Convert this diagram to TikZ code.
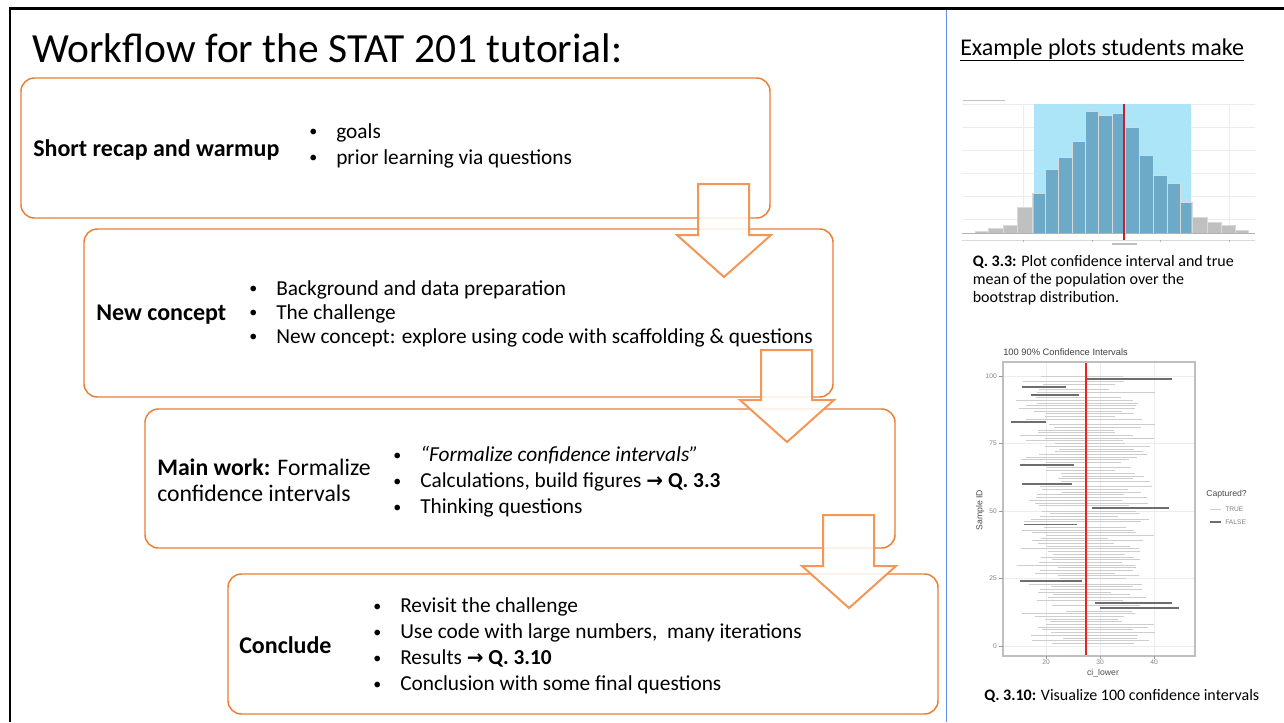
\documentclass[tikz,border=0pt]{standalone}
\usepackage{fontspec}
\setmainfont{Carlito}
\newfontfamily\plotfont{Liberation Sans}
\newfontfamily\symfont{DejaVu Sans}
\usetikzlibrary{fit}

\definecolor{stageorange}{HTML}{ED7D31}
\definecolor{arroworange}{RGB}{244,150,85}
\definecolor{dividerblue}{RGB}{100,140,225}
\definecolor{ciblue}{RGB}{172,228,248}
\definecolor{barblue}{RGB}{108,170,200}
\definecolor{bargray}{RGB}{192,192,192}
\definecolor{meanred}{RGB}{200,30,45}
\definecolor{truered}{RGB}{235,35,35}
\definecolor{gridgray}{RGB}{236,236,236}
\definecolor{trueline}{RGB}{205,205,205}
\definecolor{falseline}{RGB}{110,110,110}

% bullet marker followed by a fixed gap to the item text
\newcommand\itm{\makebox[20.25pt][l]{\raisebox{1.2pt}{\fontsize{12}{12}\selectfont\textbullet}}}
\newcommand\rarr{{\symfont\bfseries\fontsize{15}{15}\selectfont →}}

\tikzset{
  stage/.style={draw=stageorange, line width=1.1pt, rounded corners=10pt, fill=white, inner sep=0pt},
  blockarrow/.style={draw=arroworange, line width=1.5pt, fill=white, fill opacity=0.85, line join=miter},
  stagetitle/.style={font=\fontsize{18}{19.5}\selectfont\bfseries, anchor=west, inner sep=0pt, align=left},
  stagelabel/.style={font=\fontsize{17.8}{19.5}\selectfont, anchor=west, inner sep=0pt, align=left},
  bullets/.style={font=\fontsize{16}{19.5}\selectfont, align=left, anchor=west, inner sep=0pt},
  caption/.style={font=\fontsize{12}{13.5}\selectfont, align=left, inner sep=0pt},
  ticklabel/.style={font=\plotfont\fontsize{5}{6}\selectfont, text=black!50, inner sep=0pt},
  axislabel/.style={font=\plotfont\fontsize{6.5}{7}\selectfont, text=black!70, inner sep=0pt},
  blurtext/.style={line width=1.2pt, draw=black!25},
}

\begin{document}
\begin{tikzpicture}[x=0.75pt, y=-0.75pt]
\useasboundingbox[fill=white] (0,0) rectangle (1284,722);

% slide frame and divider
\draw[line width=2.2pt, black] (10,722) -- (10,8.5) -- (1284,8.5);
\draw[line width=0.9pt, dividerblue] (946.5,10) -- (946.5,722);

% heading
\node[font=\fontsize{31.1}{34}\selectfont, anchor=base west, inner sep=0pt] (title) at (32,62) {Workflow for the STAT 201 tutorial:};

% stage boxes
\node[stage, fit={(21,78)(770,218)}] (recap) {};
\node[stage, fit={(84,229)(833,397)}] (concept) {};
\node[stage, fit={(145,409)(895,548)}] (mainwork) {};
\node[stage, fit={(228,574)(938,714)}] (conclude) {};

% stage contents
\node[stagetitle] (recapT) at (33,150) {Short recap and warmup};
\node[bullets] (recapB) at (309,146) {\itm goals\\ \itm prior learning via questions};

\node[stagetitle] (conceptT) at (96,315) {New concept};
\node[bullets, font=\fontsize{16}{18}\selectfont] (conceptB) at (249,314) {\itm Background and data preparation\\ \itm The challenge\\ \itm New concept: explore using code with scaffolding \& questions};

\node[stagelabel] (mainT) at (157,480) {\textbf{Main work:} Formalize\\confidence intervals};
\node[bullets] (mainB) at (393,482) {\itm \textit{“Formalize confidence intervals”}\\ \itm Calculations, build figures \rarr{} \textbf{Q. 3.3}\\ \itm Thinking questions};

\node[stagetitle] (concT) at (239,645) {Conclude};
\node[bullets] (concB) at (373,646) {\itm Revisit the challenge\\ \itm Use code with large numbers,~ many iterations\\ \itm Results \rarr{} \textbf{Q. 3.10}\\ \itm Conclusion with some final questions};

% block arrows between stages
\draw[blockarrow] (698,184) -- (749,184) -- (749,235) -- (771,235) -- (724,277) -- (677,235) -- (698,235) -- cycle;
\draw[blockarrow] (761,350) -- (812,350) -- (812,400) -- (834,400) -- (787,442) -- (740,400) -- (761,400) -- cycle;
\draw[blockarrow] (823,515) -- (874,515) -- (874,566) -- (896,566) -- (849,608) -- (802,566) -- (823,566) -- cycle;

% ---------- right column ----------
\node[font=\fontsize{18}{20}\selectfont, anchor=base west, inner sep=0pt] (examples) at (960,55) {\underline{Example plots students make}};

% bootstrap histogram with confidence band
\draw[blurtext] (963,100.5) -- (1005,100.5);
\foreach \gy in {104,127,150,173,196,219}
  \draw[gridgray, line width=0.5pt] (962,\gy) -- (1255,\gy);
\foreach \gx in {1023,1092,1160,1229}
  \draw[gridgray, line width=0.5pt] (\gx,104) -- (\gx,233);
\fill[ciblue] (1034,104) rectangle (1191,233);
\def\histbars{975/988/231.5, 988/1003/228, 1003/1017/225, 1017/1032/207, 1032/1045/193, 1045/1058/169, 1058/1072/157, 1072/1085/141, 1085/1098/111, 1098/1112/115, 1112/1125/113, 1125/1139/127, 1139/1153/155, 1153/1167/175, 1167/1180/183, 1180/1192/202, 1192/1207/217, 1207/1221/222, 1221/1235/225, 1235/1248/230}
\foreach \l/\r/\t in \histbars
  \fill[bargray] (\l,\t) rectangle (\r,233);
\begin{scope}
  \clip (1034,100) rectangle (1191,233);
  \foreach \l/\r/\t in \histbars
    \fill[barblue] (\l,\t) rectangle (\r,233);
\end{scope}
\foreach \l/\r/\t in \histbars
  \draw[white!85!black, line width=0.25pt] (\l,233) -- (\l,\t) -- (\r,\t) -- (\r,233);
\draw[black!30, line width=0.5pt] (962,233) -- (1255,233);
\draw[black!15, line width=0.5pt] (962,240) -- (1255,240);
\foreach \gx in {1023,1092,1160,1229}
  \draw[black!30, line width=0.4pt] (\gx,240) -- (\gx,242);
\draw[meanred, line width=1.5pt] (1124,104) -- (1124,240);
\draw[blurtext, line width=0.8pt] (1112,244) -- (1137,244);

\node[caption, anchor=north west] (cap33) at (972.5,255) {\textbf{Q. 3.3:} Plot confidence interval and true\\mean of the population over the\\bootstrap distribution.};

% 100 confidence intervals plot
\node[font=\plotfont\fontsize{7}{8}\selectfont, text=black!75, anchor=west, inner sep=0pt] (citle) at (1003,352.5) {100 90\% Confidence Intervals};
\foreach \gv in {20,30,40}
  \draw[gridgray, line width=0.5pt] ({1046+5.4*(\gv-20)},362) -- ({1046+5.4*(\gv-20)},656);
\foreach \gi in {0,25,50,75,100}
  \draw[gridgray, line width=0.5pt] (1003,{646-2.7*\gi}) -- (1195,{646-2.7*\gi});
\pgfmathsetseed{42}
\foreach \a/\b in {1/13,15/15,17/23,25/44,46/50,52/59,61/66,68/82,84/92,94/95,97/98,100/100}{
  \foreach \i in {\a,...,\b}{
    \pgfmathsetmacro\cc{28+3*rand}
    \pgfmathsetmacro\hh{6+5*rnd}
    \draw[trueline, line width=0.6pt] ({1046+5.4*(\cc-\hh-20)},{646-2.7*\i}) -- ({1046+5.4*(\cc+\hh-20)},{646-2.7*\i});
  }
}
\foreach \i/\lo/\hi in {99/27.5/43.3, 96/15.5/23.7, 93/17.3/26.2, 83/13.6/20.0, 67/15.2/25.1, 60/15.5/24.8, 51/28.6/42.8, 45/15.9/25.7, 24/15.1/26.7, 16/29.0/43.3, 14/30.0/44.7}
  \draw[falseline, line width=1.3pt] ({1046+5.4*(\lo-20)},{646-2.7*\i}) -- ({1046+5.4*(\hi-20)},{646-2.7*\i});
\draw[truered, line width=1.5pt] (1085.7,362) -- (1085.7,656);
\draw[black!25, line width=0.9pt] (1003,362) rectangle (1195,656);
\foreach \gi in {0,25,50,75,100}{
  \draw[black!40, line width=0.4pt] (999,{646-2.7*\gi}) -- (1003,{646-2.7*\gi});
  \node[ticklabel, anchor=east] at (997,{646-2.7*\gi}) {\gi};
}
\foreach \gv in {20,30,40}{
  \draw[black!40, line width=0.4pt] ({1046+5.4*(\gv-20)},656) -- ({1046+5.4*(\gv-20)},659);
  \node[ticklabel, anchor=north] at ({1046+5.4*(\gv-20)},660) {\gv};
}
\node[axislabel] (xlab) at (1103,673) {ci\_lower};
\node[axislabel, rotate=90] (ylab) at (980,510) {Sample ID};
\node[axislabel, anchor=west] (legT) at (1206,494) {Captured?};
\draw[trueline, line width=0.6pt] (1210,509) -- (1221,509);
\node[ticklabel, anchor=west] (legTrue) at (1225,509) {TRUE};
\draw[falseline, line width=1.3pt] (1210,522) -- (1221,522);
\node[ticklabel, anchor=west] (legFalse) at (1225,522) {FALSE};

\node[caption, anchor=base west] (cap310) at (984,700) {\textbf{Q. 3.10:} Visualize 100 confidence intervals};
\end{tikzpicture}
\end{document}
